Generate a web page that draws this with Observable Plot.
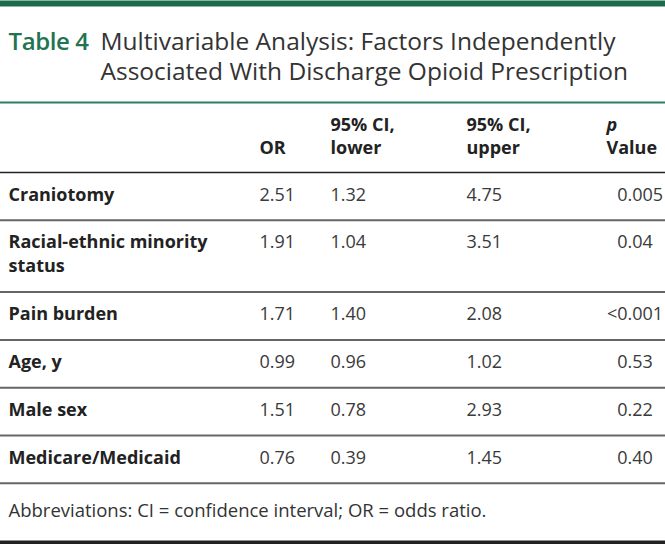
<!DOCTYPE html>
<html>
<head>
<meta charset="utf-8">
<script src="https://cdn.jsdelivr.net/npm/d3@7"></script>
<script src="https://cdn.jsdelivr.net/npm/@observablehq/plot@0.6"></script>
<style>
  html, body { margin: 0; padding: 0; background: #fff; }
  #chart svg { display: block; }
  .tableno text { letter-spacing: -0.4px; }
</style>
</head>
<body>
<div id="chart"></div>
<script>
// ---- Data ----
const tableNumber = "Table 4";
const titleLines = ["Multivariable Analysis: Factors Independently", "Associated With Discharge Opioid Prescription"];
const headerTop = ["", "95% CI,", "95% CI,", "p"];
const headerBottom = ["OR", "lower", "upper", "Value"];
const factors = ["Craniotomy", "Racial-ethnic minority\nstatus", "Pain burden", "Age, y", "Male sex", "Medicare/Medicaid"];
const oddsRatio = ["2.51", "1.91", "1.71", "0.99", "1.51", "0.76"];
const ciLower = ["1.32", "1.04", "1.40", "0.96", "0.78", "0.39"];
const ciUpper = ["4.75", "3.51", "2.08", "1.02", "2.93", "1.45"];
const pValue = ["0.005", "0.04", "<0.001", "0.53", "0.22", "0.40"];
const footnote = "Abbreviations: CI = confidence interval; OR = odds ratio.";

// ---- Layout (pixel units mapped through identity-like linear scales) ----
const W = 665, H = 544;
const colX = [259, 330, 466, 606];     // OR, lower, upper, p (header / left edge)
const labelX = 8;
const pDecimalX = 627;
const titleX = 100;
const headerRuleY = 172;
const rowBase = 47.8, lineStep = 24, firstBaseline = 28;
const green = "#1d6b4b";
const font = "'Open Sans', 'Noto Sans', sans-serif";

// rows
let rowTop = headerRuleY;
const rows = factors.map((f, i) => {
  const nLines = f.split("\n").length;
  const r = {
    label: f, or: oddsRatio[i], lower: ciLower[i], upper: ciUpper[i], p: pValue[i],
    pInt: pValue[i].split(".")[0], pFrac: "." + pValue[i].split(".")[1],
    top: rowTop, baseline: rowTop + firstBaseline, lastBaseline: rowTop + firstBaseline + lineStep * (nLines - 1)
  };
  rowTop += rowBase + lineStep * (nLines - 1);
  r.bottom = rowTop;
  return r;
});
const tableBottom = rowTop;

const headers = headerBottom.map((h, i) => ({top: headerTop[i], bottom: h, x: colX[i]}));

const valueCols = [
  {key: "or", x: colX[0]},
  {key: "lower", x: colX[1]},
  {key: "upper", x: colX[2]}
];
const cells = rows.flatMap(r => valueCols.map(c => ({x: c.x, y: r.baseline, text: r[c.key]})));

const plot = Plot.plot({
  width: W,
  height: H,
  margin: 0,
  x: {domain: [0, W], range: [0, W], axis: null},
  y: {domain: [0, H], range: [0, H], axis: null},
  style: {fontFamily: font, background: "#fff"},
  marks: [
    // top green bar
    Plot.ruleY([3], {stroke: green, strokeWidth: 6}),
    // title
    Plot.text([tableNumber], {x: labelX, y: 49, text: d => d, textAnchor: "start", lineAnchor: "bottom", fontSize: 24, fontWeight: 600, fill: "#217352", className: "tableno"}),
    Plot.text(titleLines, {x: titleX, y: (d, i) => 49 + i * 30, text: d => d, textAnchor: "start", lineAnchor: "bottom", fontSize: 24.5, fontWeight: 400, fill: "#333"}),
    // green rule under title
    Plot.ruleY([102], {stroke: "#2f7f5f", strokeWidth: 2}),
    // headers
    Plot.text(headers.filter(h => h.top && h.top !== "p"), {x: "x", y: 130, text: "top", textAnchor: "start", lineAnchor: "bottom", fontSize: 18, fontWeight: 700, fill: "#222"}),
    Plot.text(headers.filter(h => h.top === "p"), {x: "x", y: 130, text: "top", textAnchor: "start", lineAnchor: "bottom", fontSize: 18, fontWeight: 700, fontStyle: "italic", fill: "#222"}),
    Plot.text(headers, {x: "x", y: 153, text: "bottom", textAnchor: "start", lineAnchor: "bottom", fontSize: 18, fontWeight: 700, fill: "#222"}),
    Plot.ruleY([headerRuleY], {stroke: "#222", strokeWidth: 1.5}),
    // row labels
    Plot.text(rows, {x: labelX, y: "lastBaseline", text: "label", textAnchor: "start", lineAnchor: "bottom", lineHeight: lineStep / 18, fontSize: 18, fontWeight: 700, fill: "#222"}),
    // numeric cells
    Plot.text(cells, {x: "x", y: "y", text: "text", textAnchor: "start", lineAnchor: "bottom", fontSize: 18, fill: "#3a3a3a"}),
    // p values, decimal aligned
    Plot.text(rows, {x: pDecimalX, y: "baseline", text: "pInt", textAnchor: "end", lineAnchor: "bottom", fontSize: 18, fill: "#3a3a3a"}),
    Plot.text(rows, {x: pDecimalX, y: "baseline", text: "pFrac", textAnchor: "start", lineAnchor: "bottom", fontSize: 18, fill: "#3a3a3a"}),
    // row separators
    Plot.ruleY(rows.map(r => r.bottom), {stroke: "#666", strokeWidth: 2}),
    // footnote
    Plot.text([footnote], {x: labelX, y: tableBottom + 34, text: d => d, textAnchor: "start", lineAnchor: "bottom", fontSize: 18.5, fill: "#333"}),
    // bottom rule
    Plot.ruleY([H - 2], {stroke: "#222", strokeWidth: 4})
  ]
});
document.getElementById("chart").appendChild(plot);
</script>
</body>
</html>
